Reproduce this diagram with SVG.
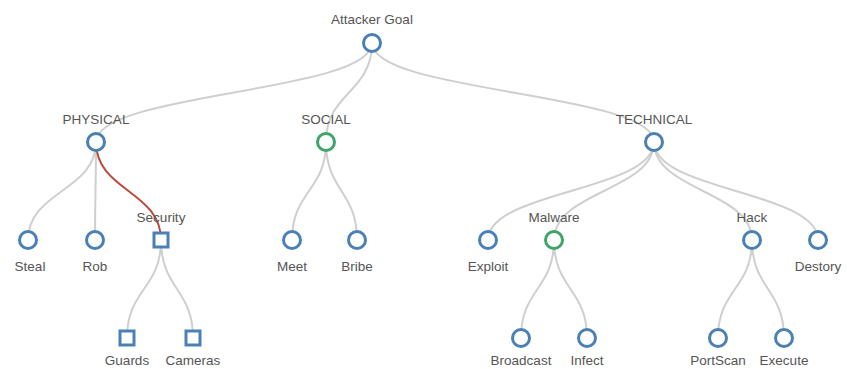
<svg xmlns="http://www.w3.org/2000/svg" width="847" height="369" viewBox="0 0 847 369">
<style>
.link{fill:none;stroke:#cfcfcf;stroke-width:2}
.hl{stroke:#b94a3e}
.n{fill:#fff;stroke:#4a80b3;stroke-width:3}
.g{stroke:#3fa46a}
text{font-family:"Liberation Sans",Arial,sans-serif;font-size:13.5px;fill:#555;text-anchor:middle}
</style>
<rect width="847" height="369" fill="#fff"/>
<g id="links">
<path class="link" d="M372,43C372,92.5 96,92.5 96,142"/>
<path class="link" d="M372,43C372,92.5 326,92.5 326,142"/>
<path class="link" d="M372,43C372,92.5 654,92.5 654,142"/>
<path class="link" d="M96,142C96,191 28,191 28,240"/>
<path class="link" d="M96,142C96,191 95,191 95,240"/>
<path class="link hl" d="M96,142C96,191 161,191 161,240"/>
<path class="link" d="M326,142C326,191 292,191 292,240"/>
<path class="link" d="M326,142C326,191 357,191 357,240"/>
<path class="link" d="M654,142C654,191 488,191 488,240"/>
<path class="link" d="M654,142C654,191 554,191 554,240"/>
<path class="link" d="M654,142C654,191 752,191 752,240"/>
<path class="link" d="M654,142C654,191 818,191 818,240"/>
<path class="link" d="M161,240C161,289 127,289 127,338"/>
<path class="link" d="M161,240C161,289 193,289 193,338"/>
<path class="link" d="M554,240C554,289 521,289 521,338"/>
<path class="link" d="M554,240C554,289 587,289 587,338"/>
<path class="link" d="M752,240C752,289 718,289 718,338"/>
<path class="link" d="M752,240C752,289 784,289 784,338"/>
</g>
<g id="attacker-goal"><circle class="n" cx="372" cy="43" r="8.5"/><text x="372" y="24">Attacker Goal</text></g>
<g id="physical"><circle class="n" cx="96" cy="142" r="8.5"/><text x="96" y="124">PHYSICAL</text></g>
<g id="social"><circle class="n g" cx="326" cy="142" r="8.5"/><text x="326" y="124">SOCIAL</text></g>
<g id="technical"><circle class="n" cx="654" cy="142" r="8.5"/><text x="654" y="124">TECHNICAL</text></g>
<g id="steal"><circle class="n" cx="28" cy="240" r="8.5"/><text x="30" y="271">Steal</text></g>
<g id="rob"><circle class="n" cx="95" cy="240" r="8.5"/><text x="95" y="271">Rob</text></g>
<g id="security"><rect class="n" x="154" y="233" width="14" height="14"/><text x="161" y="222">Security</text></g>
<g id="meet"><circle class="n" cx="292" cy="240" r="8.5"/><text x="292" y="271">Meet</text></g>
<g id="bribe"><circle class="n" cx="357" cy="240" r="8.5"/><text x="357" y="271">Bribe</text></g>
<g id="exploit"><circle class="n" cx="488" cy="240" r="8.5"/><text x="488" y="271">Exploit</text></g>
<g id="malware"><circle class="n g" cx="554" cy="240" r="8.5"/><text x="554" y="222">Malware</text></g>
<g id="hack"><circle class="n" cx="752" cy="240" r="8.5"/><text x="752" y="222">Hack</text></g>
<g id="destory"><circle class="n" cx="818" cy="240" r="8.5"/><text x="818" y="271">Destory</text></g>
<g id="guards"><rect class="n" x="120" y="331" width="14" height="14"/><text x="127" y="365">Guards</text></g>
<g id="cameras"><rect class="n" x="186" y="331" width="14" height="14"/><text x="193" y="365">Cameras</text></g>
<g id="broadcast"><circle class="n" cx="521" cy="338" r="8.5"/><text x="521" y="365">Broadcast</text></g>
<g id="infect"><circle class="n" cx="587" cy="338" r="8.5"/><text x="587" y="365">Infect</text></g>
<g id="portscan"><circle class="n" cx="718" cy="338" r="8.5"/><text x="718" y="365">PortScan</text></g>
<g id="execute"><circle class="n" cx="784" cy="338" r="8.5"/><text x="784" y="365">Execute</text></g>
</svg>
